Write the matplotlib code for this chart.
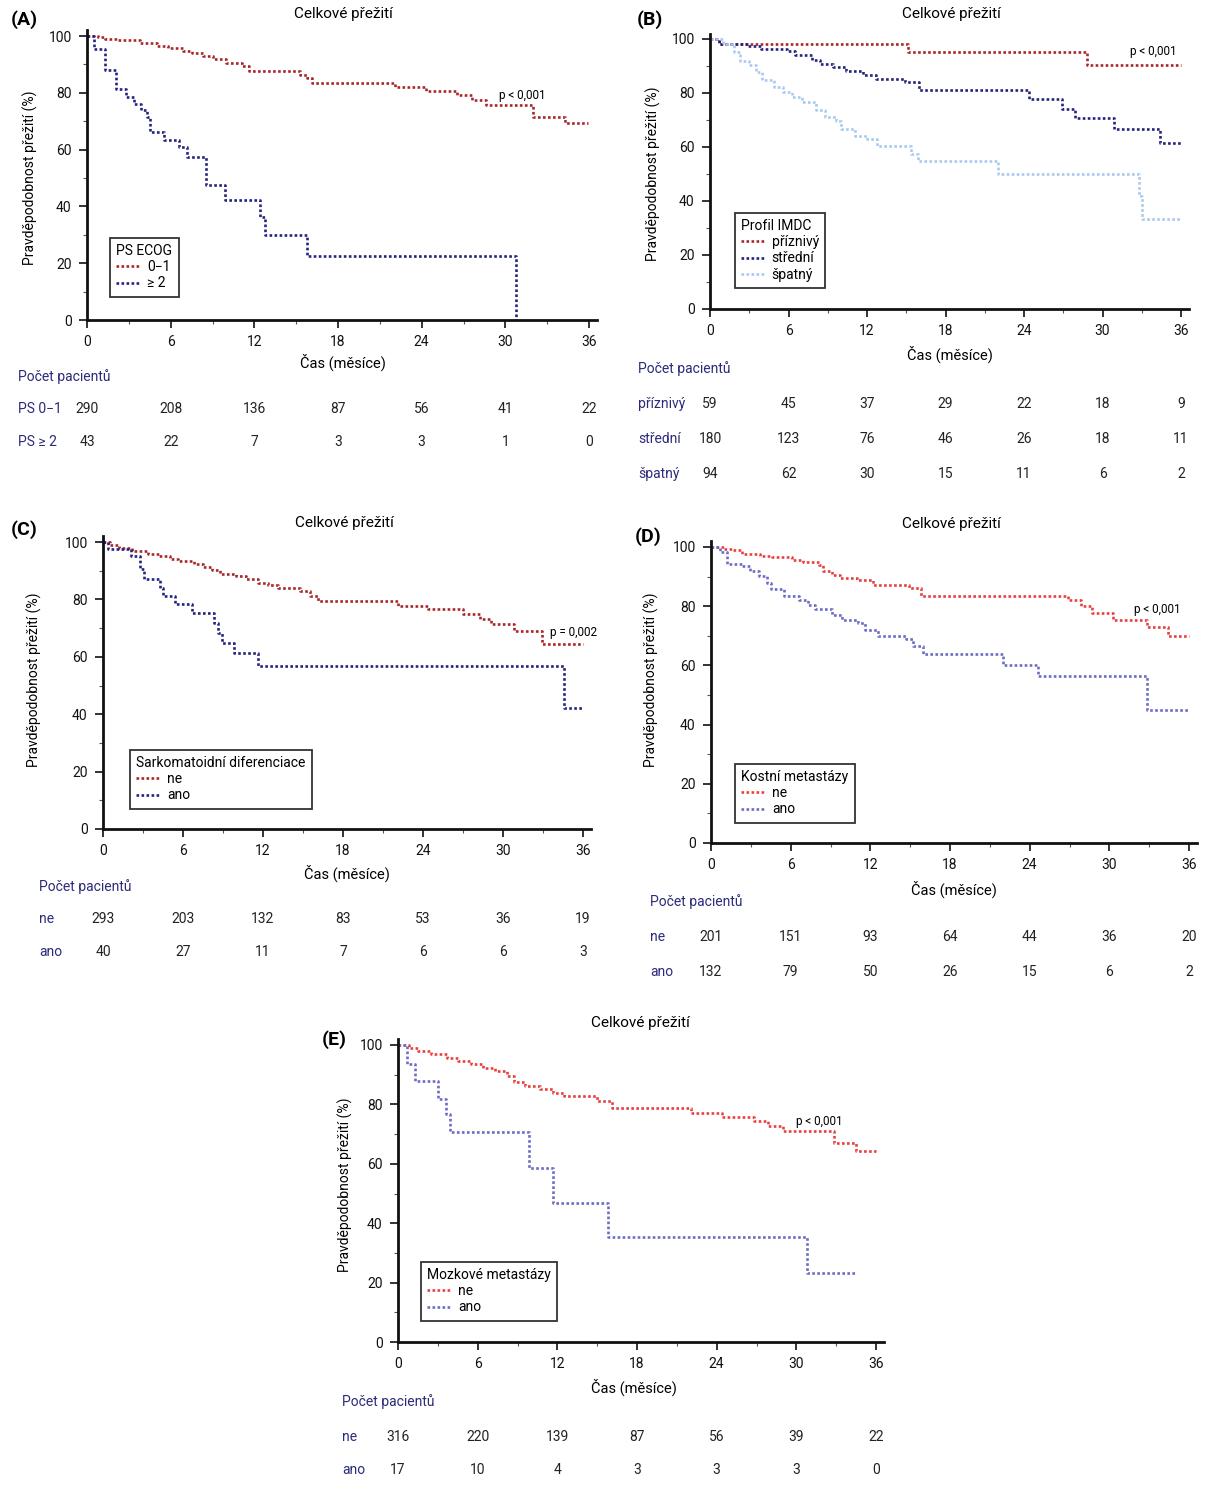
import matplotlib
matplotlib.use('Agg')
import matplotlib.pyplot as plt
from matplotlib.lines import Line2D
from matplotlib.transforms import blended_transform_factory
from matplotlib.ticker import MultipleLocator

plt.rcParams['font.family'] = ['Roboto', 'DejaVu Sans']

W, H = 1206, 1488

months = [0, 6, 12, 18, 24, 30, 36]
title = 'Celkové přežití'
ylab = 'Pravděpodobnost přežití (%)'
xlab = 'Čas (měsíce)'
riskTitle = 'Počet pacientů'

# ---- panel A : PS ECOG
A_red_t = [0, 0.8, 1.3, 2.2, 3.8, 5.0, 5.8, 6.9, 7.5, 8.3, 9.0, 10.0, 11.1, 11.6, 15.3, 15.8, 16.1, 22.1, 24.3, 26.5, 27.6, 28.6, 32.0, 34.3, 35.9]
A_red_s = [100, 99.5, 99, 98.5, 97.4, 96.5, 95.6, 94.8, 94.1, 92.9, 91.8, 90.6, 89.4, 87.8, 86.2, 85.1, 83.5, 81.9, 80.7, 79.2, 77.6, 75.6, 71.5, 69.2, 69.2]
A_blue_t = [0, 0.5, 1.3, 2.1, 2.8, 3.4, 3.9, 4.3, 4.5, 5.5, 6.6, 7.2, 8.5, 9.9, 12.4, 12.8, 15.8, 30.8, 30.8]
A_blue_s = [100, 95.3, 88.2, 81.5, 78.6, 76.2, 74.1, 71.5, 66.2, 63.5, 60.9, 57.4, 47.6, 42.1, 36.2, 30.0, 22.5, 0, 0]
A_rows = ['PS 0−1', 'PS ≥ 2']
A_risk = [[290, 208, 136, 87, 56, 41, 22], [43, 22, 7, 3, 3, 1, 0]]

# ---- panel B : Profil IMDC
B_good_t = [0, 0.7, 15.1, 28.8, 36]
B_good_s = [100, 98.3, 95.2, 90.2, 90.2]
B_mid_t = [0, 0.7, 2.9, 3.9, 5.9, 6.5, 7.8, 8.4, 9.4, 10.4, 11.7, 12.7, 14.9, 16.0, 24.4, 26.9, 27.9, 30.9, 34.4, 36]
B_mid_s = [100, 98.3, 97.4, 96.4, 95.5, 94.1, 92.3, 90.9, 89.6, 88.0, 86.5, 85.3, 84.0, 81.2, 77.8, 74.2, 70.7, 66.5, 61.6, 61.6]
B_poor_t = [0, 1.0, 1.8, 2.3, 3.0, 3.5, 4.0, 4.9, 5.6, 6.3, 7.0, 8.1, 8.8, 9.6, 10.0, 11.1, 12.0, 12.8, 15.4, 15.9, 22.0, 32.8, 33.0, 36]
B_poor_s = [100, 98.3, 95.2, 91.8, 90.4, 87.8, 84.7, 82.2, 80.3, 78.5, 76.6, 73.6, 71.1, 69.8, 66.7, 64.2, 63.0, 60.5, 57.5, 54.8, 50.1, 42.0, 33.4, 33.4]
B_rows = ['příznivý', 'střední', 'špatný']
B_risk = [[59, 45, 37, 29, 22, 18, 9], [180, 123, 76, 46, 26, 18, 11], [94, 62, 30, 15, 11, 6, 2]]

# ---- panel C : Sarkomatoidni diferenciace
C_ne_t = [0, 0.5, 1.2, 2.2, 3.4, 4.2, 5.0, 5.6, 6.8, 7.5, 8.2, 8.8, 10.0, 10.7, 11.6, 12.4, 13.1, 14.8, 15.5, 16.1, 22.1, 24.4, 27.0, 28.3, 29.1, 30.8, 32.9, 36]
C_ne_s = [100, 99, 98, 96.9, 95.9, 95.1, 94.2, 93.4, 92.4, 91.4, 90.1, 89.0, 88.1, 87.0, 85.8, 84.9, 84.1, 82.9, 81.2, 79.4, 77.7, 76.5, 74.8, 73.0, 71.3, 69.0, 64.3, 64.3]
C_ano_t = [0, 0.4, 2.1, 2.8, 3.1, 4.3, 4.5, 5.4, 6.7, 8.3, 8.6, 8.9, 9.8, 11.6, 34.6, 35.9]
C_ano_s = [100, 97.4, 95.1, 90.5, 87.0, 84.1, 81.2, 78.5, 75.3, 71.9, 68.4, 64.9, 61.4, 56.7, 42.2, 42.2]
C_rows = ['ne', 'ano']
C_risk = [[293, 203, 132, 83, 53, 36, 19], [40, 27, 11, 7, 6, 6, 3]]

# ---- panel D : Kostni metastazy
D_ne_t = [0, 1.0, 1.6, 2.3, 3.7, 4.6, 6.1, 6.9, 8.1, 8.4, 9.1, 9.7, 11.0, 12.2, 14.9, 15.8, 26.9, 27.9, 28.7, 30.3, 32.8, 34.4, 36]
D_ne_s = [100, 99.3, 98.9, 97.6, 97.1, 96.5, 95.7, 95.1, 94.0, 91.8, 90.6, 89.6, 88.7, 87.3, 86.2, 83.6, 82.0, 80.0, 77.8, 75.5, 73.0, 69.9, 69.9]
D_ano_t = [0, 0.7, 1.2, 2.3, 2.9, 3.6, 4.2, 4.5, 5.5, 6.6, 7.3, 7.8, 9.1, 9.9, 11.1, 11.6, 12.6, 14.7, 15.2, 16.0, 22.0, 24.6, 32.8, 36]
D_ano_s = [100, 98.4, 94.4, 93.6, 91.9, 90.2, 88.0, 85.8, 83.6, 82.0, 80.4, 78.9, 76.9, 75.5, 74.4, 72.1, 70.1, 68.8, 66.5, 64.0, 60.3, 56.4, 44.8, 44.8]
D_rows = ['ne', 'ano']
D_risk = [[201, 151, 93, 64, 44, 36, 20], [132, 79, 50, 26, 15, 6, 2]]

# ---- panel E : Mozkove metastazy
E_ne_t = [0, 0.8, 1.5, 2.5, 3.7, 4.5, 5.5, 6.4, 7.3, 8.2, 8.7, 9.6, 10.7, 11.7, 12.5, 15.0, 16.1, 22.1, 24.4, 26.8, 27.9, 29.0, 32.8, 34.5, 36]
E_ne_s = [100, 99, 98, 96.9, 95.7, 94.6, 93.5, 92.4, 91.2, 89.6, 87.5, 86.2, 85.1, 83.9, 82.8, 81.1, 78.7, 77.2, 75.7, 74.4, 72.7, 71.0, 67.1, 64.3, 64.3]
E_ano_t = [0, 0.7, 1.3, 3.0, 3.6, 3.9, 9.9, 11.7, 15.8, 30.8, 34.5]
E_ano_s = [100, 93.7, 87.9, 81.9, 76.7, 70.7, 58.7, 46.9, 35.4, 23.3, 23.3]
E_rows = ['ne', 'ano']
E_risk = [[316, 220, 139, 87, 56, 39, 22], [17, 10, 4, 3, 3, 3, 0]]

darkred = '#a8282a'
navy = '#24247e'
lightblue = '#a9c9ee'
red = '#e8403f'
violet = '#6c6cc4'
labcol = '#2b2b7a'
dots = (0, (1, 0.9))

fig = plt.figure(figsize=(W / 100, H / 100), dpi=100)


def fx(x):
    return x / W


def fy(y):
    return 1 - y / H


def make_axes(x0, x36, y100, y0):
    ppm = (x36 - x0) / 36.0
    ppp = (y0 - y100) / 100.0
    ax = fig.add_axes([fx(x0), fy(y0), 36.6 * ppm / W, 102 * ppp / H])
    ax.set_xlim(0, 36.6)
    ax.set_ylim(0, 102)
    for s in ['top', 'right']:
        ax.spines[s].set_visible(False)
    for s in ['left', 'bottom']:
        ax.spines[s].set_linewidth(2)
        ax.spines[s].set_color('#111111')
    ax.xaxis.set_major_locator(MultipleLocator(6))
    ax.xaxis.set_minor_locator(MultipleLocator(3))
    ax.yaxis.set_major_locator(MultipleLocator(20))
    ax.yaxis.set_minor_locator(MultipleLocator(10))
    ax.tick_params(which='major', length=6, width=1.2, labelsize=10, pad=5, colors='#111111')
    ax.tick_params(which='minor', length=3, width=0.8, colors='#555555')
    ax.patch.set_alpha(0)
    return ax


def km(ax, t, s, color):
    ax.step(t, s, where='post', color=color, linestyle=dots, linewidth=1.9, clip_on=False)


def panel_text(ax, letter, lpos, tpos, ylpos, xlpos):
    fig.text(fx(lpos[0]), fy(lpos[1]), letter, fontsize=14, fontweight='bold', ha='center', va='center')
    fig.text(fx(tpos[0]), fy(tpos[1]), title, fontsize=11, ha='center', va='center')
    fig.text(fx(ylpos[0]), fy(ylpos[1]), ylab, fontsize=10, ha='center', va='center', rotation=90)
    fig.text(fx(xlpos[0]), fy(xlpos[1]), xlab, fontsize=10.5, ha='center', va='center')


def legend(ax, colors, labels, ltitle, x, y):
    handles = [Line2D([], [], color=c, linestyle=dots, linewidth=1.9) for c in colors]
    lg = ax.legend(handles, labels, title=ltitle, loc='upper left', bbox_to_anchor=(fx(x), fy(y)),
                   bbox_transform=fig.transFigure, fancybox=False, edgecolor='#333333', framealpha=1,
                   borderpad=0.45, handlelength=1.7, handletextpad=0.5, labelspacing=0.15,
                   fontsize=10, title_fontsize=10, alignment='left', borderaxespad=0)
    lg.get_frame().set_linewidth(1.3)


def risk_table(ax, labx, titley, rowy, rows, risk):
    fig.text(fx(labx), fy(titley), riskTitle, fontsize=10, color=labcol, ha='left', va='center')
    tr = blended_transform_factory(ax.transData, fig.transFigure)
    for name, vals, yy in zip(rows, risk, rowy):
        fig.text(fx(labx), fy(yy), name, fontsize=10, color=labcol, ha='left', va='center')
        for m, v in zip(months, vals):
            ax.text(m, fy(yy), str(v), transform=tr, fontsize=10, color='#222222', ha='center', va='center')


# A
axA = make_axes(87, 589, 36, 320)
km(axA, A_red_t, A_red_s, darkred)
km(axA, A_blue_t, A_blue_s, navy)
axA.text(31.2, 79, 'p < 0,001', fontsize=8.5, ha='center', va='center')
legend(axA, [darkred, navy], ['0−1', '≥ 2'], 'PS ECOG', 110, 238)
panel_text(axA, '(A)', (24, 20), (343, 14), (30, 178), (343, 362))
risk_table(axA, 18, 377, [409, 442], A_rows, A_risk)

# B
axB = make_axes(710, 1181, 39, 309)
km(axB, B_good_t, B_good_s, darkred)
km(axB, B_mid_t, B_mid_s, navy)
km(axB, B_poor_t, B_poor_s, lightblue)
axB.text(33.9, 95.5, 'p < 0,001', fontsize=8.5, ha='center', va='center')
legend(axB, [darkred, navy, lightblue], ['příznivý', 'střední', 'špatný'], 'Profil IMDC', 735, 213)
panel_text(axB, '(B)', (650, 20), (951, 14), (653, 174), (950, 354))
risk_table(axB, 638, 369, [404, 439, 474], B_rows, B_risk)

# C
axC = make_axes(103, 583, 542, 829)
km(axC, C_ne_t, C_ne_s, darkred)
km(axC, C_ano_t, C_ano_s, navy)
axC.text(35.3, 68.6, 'p = 0,002', fontsize=8.5, ha='center', va='center')
legend(axC, [darkred, navy], ['ne', 'ano'], 'Sarkomatoidní diferenciace', 130, 750)
panel_text(axC, '(C)', (24, 530), (344, 523), (34, 680), (347, 873))
risk_table(axC, 39, 887, [919, 952], C_rows, C_risk)

# D
axD = make_axes(711, 1189, 547, 843)
km(axD, D_ne_t, D_ne_s, red)
km(axD, D_ano_t, D_ano_s, violet)
axD.text(33.6, 79, 'p < 0,001', fontsize=8.5, ha='center', va='center')
legend(axD, [red, violet], ['ne', 'ano'], 'Kostní metastázy', 735, 764)
panel_text(axD, '(D)', (648, 537), (951, 524), (651, 680), (954, 889))
risk_table(axD, 650, 902, [937, 972], D_rows, D_risk)

# E
axE = make_axes(398, 876, 1045, 1342)
km(axE, E_ne_t, E_ne_s, red)
km(axE, E_ano_t, E_ano_s, violet)
axE.text(31.7, 74.4, 'p < 0,001', fontsize=8.5, ha='center', va='center')
legend(axE, [red, violet], ['ne', 'ano'], 'Mozkové metastázy', 421, 1262)
panel_text(axE, '(E)', (334, 1040), (640, 1023), (345, 1185), (634, 1387))
risk_table(axE, 342, 1402, [1437, 1470], E_rows, E_risk)

fig.savefig('out.png', dpi=100)
